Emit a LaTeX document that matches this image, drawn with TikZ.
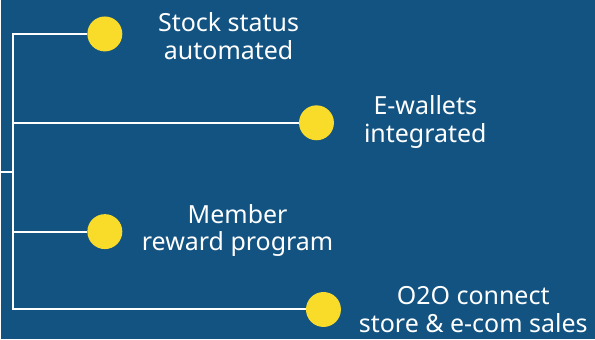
\documentclass[tikz,border=0pt]{standalone}
\usepackage{fontspec}
\setmainfont{Noto Sans}
\usetikzlibrary{positioning}
\definecolor{bgblue}{RGB}{18,83,130}
\definecolor{dotyellow}{RGB}{249,220,42}

\begin{document}
\begin{tikzpicture}[x=1pt, y=-1pt,
	dot/.style={circle, fill=dotyellow, minimum size=35pt, inner sep=0pt},
	lbl/.style={text=white, align=center, inner sep=0pt, font=\fontsize{25}{27.5}\selectfont},
	branch/.style={draw=white, line width=2pt}]
	\fill[bgblue] (0,0) rectangle (595,340);
	% trunk
	\coordinate (stub) at (0,172);
	\coordinate (root) at (12,172);
	\coordinate (b1) at (12,34);
	\coordinate (b2) at (12,123);
	\coordinate (b3) at (12,232);
	\coordinate (b4) at (12,310);
	% dots
	\node[dot] (d1) at (104,34) {};
	\node[dot] (d2) at (316,123) {};
	\node[dot] (d3) at (104,232) {};
	\node[dot] (d4) at (323,310) {};
	\draw[branch] (d1) -- (b1) -- (b4) -- (d4);
	\draw[branch] (b2) -- (d2);
	\draw[branch] (b3) -- (d3);
	\draw[branch] (stub) -- (root);
	% labels
	\node[lbl] (l1) at (228,36) {Stock status\\automated};
	\node[lbl] (l2) at (425,122) {E-wallets\\integrated};
	\node[lbl] (l3) at (237,231) {Member\\reward program};
	\node[lbl] (l4) at (473,310) {O2O connect\\store \& e-com sales};
\end{tikzpicture}
\end{document}
